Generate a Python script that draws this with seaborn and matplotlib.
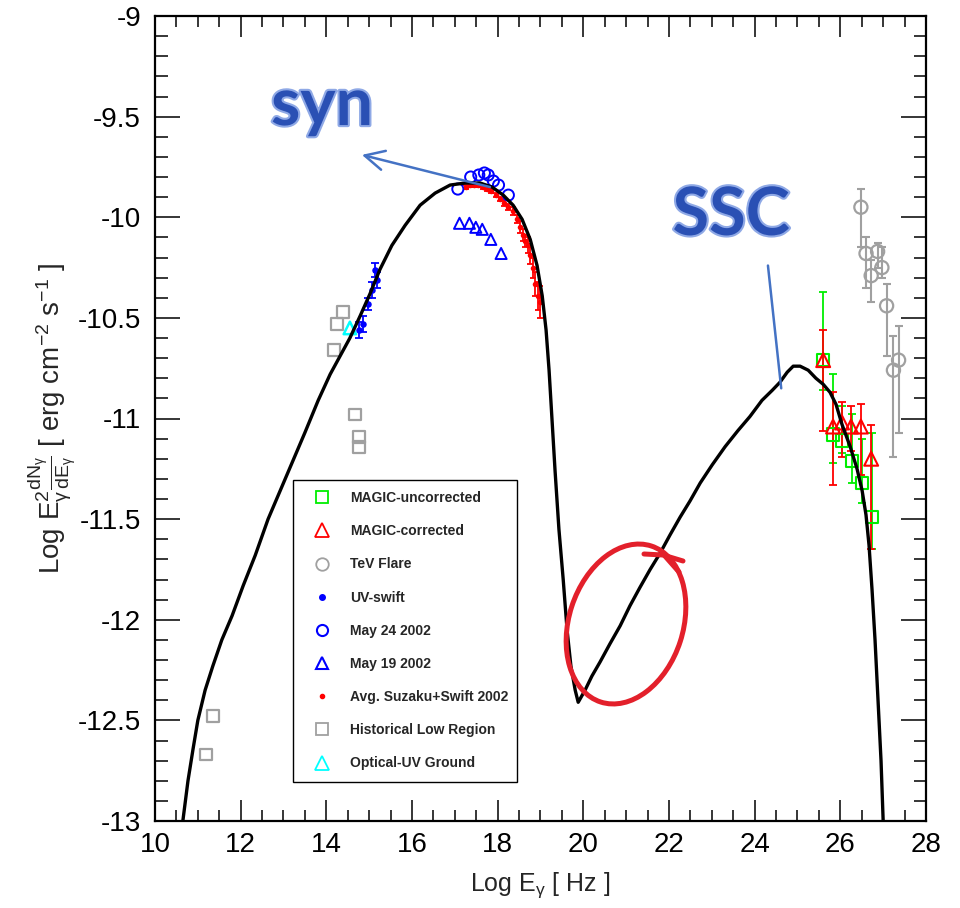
import numpy as np
import pandas as pd
import seaborn as sns
import matplotlib
matplotlib.use("Agg")
import matplotlib.pyplot as plt
from matplotlib.lines import Line2D
from matplotlib.patches import Ellipse
import matplotlib.patheffects as pe

# ---------------- data ----------------
# SED model curve (synchrotron + SSC)
curve_x = [10.65, 10.77, 10.89, 11.00, 11.17, 11.35, 11.56, 11.80, 12.06, 12.34, 12.64, 12.92,
           13.20, 13.50, 13.81, 14.09, 14.32, 14.55, 14.79, 15.02, 15.25, 15.53, 15.84, 16.19,
           16.54, 16.89, 17.24, 17.59, 17.87, 18.13, 18.36, 18.57, 18.76, 18.92, 19.04, 19.13,
           19.20, 19.27, 19.34, 19.43, 19.53, 19.62, 19.71, 19.81, 19.88,
           20.04, 20.20, 20.39, 20.62, 20.86, 21.09, 21.32, 21.56, 21.79, 22.02, 22.26, 22.49,
           22.73, 23.01, 23.31, 23.61, 23.89, 24.17, 24.41, 24.59, 24.76, 24.90, 25.06, 25.25,
           25.43, 25.60, 25.76, 25.90, 26.04, 26.23, 26.39, 26.51, 26.60, 26.67, 26.74, 26.81,
           26.88, 26.95, 27.00]
curve_y = [-13.00, -12.80, -12.64, -12.50, -12.35, -12.23, -12.10, -11.98, -11.83, -11.68, -11.50, -11.36,
           -11.22, -11.07, -10.91, -10.78, -10.69, -10.60, -10.49, -10.38, -10.26, -10.14, -10.04, -9.94,
           -9.88, -9.84, -9.83, -9.83, -9.85, -9.89, -9.94, -10.01, -10.11, -10.24, -10.39, -10.56,
           -10.76, -11.01, -11.26, -11.55, -11.80, -12.05, -12.23, -12.35, -12.41,
           -12.35, -12.28, -12.21, -12.12, -12.03, -11.93, -11.84, -11.75, -11.67, -11.58, -11.49, -11.41,
           -11.32, -11.23, -11.14, -11.06, -10.99, -10.91, -10.86, -10.82, -10.77, -10.74, -10.74, -10.76,
           -10.80, -10.83, -10.87, -10.93, -11.03, -11.14, -11.25, -11.36, -11.48, -11.63, -11.85, -12.10,
           -12.40, -12.70, -13.00]

# MAGIC uncorrected
magic_unc_x = [25.60, 25.83, 26.04, 26.27, 26.51, 26.74]
magic_unc_y = [-10.71, -11.08, -11.11, -11.21, -11.32, -11.49]
magic_unc_hi = [-10.37, -10.78, -10.94, -10.98, -11.10, -11.07]
magic_unc_lo = [-10.86, -11.22, -11.17, -11.32, -11.42, -11.65]

# MAGIC corrected
magic_cor_x = [25.60, 25.83, 26.04, 26.25, 26.48, 26.72]
magic_cor_y = [-10.71, -11.04, -11.02, -11.04, -11.04, -11.20]
magic_cor_hi = [-10.56, -10.87, -10.92, -10.94, -10.93, -11.03]
magic_cor_lo = [-11.06, -11.33, -11.19, -11.16, -11.28, -11.65]

# TeV flare
tev_x = [26.48, 26.60, 26.72, 26.87, 26.97, 27.08, 27.24, 27.36]
tev_y = [-9.95, -10.18, -10.29, -10.17, -10.25, -10.44, -10.76, -10.71]
tev_hi = [-9.86, -10.10, -10.21, -10.13, -10.15, -10.33, -10.59, -10.54]
tev_lo = [-10.15, -10.35, -10.42, -10.25, -10.30, -10.69, -11.19, -11.07]

# UV-swift
uv_x = [15.14, 15.18, 15.07, 14.97, 14.86, 14.77]
uv_y = [-10.26, -10.31, -10.36, -10.43, -10.53, -10.56]
uv_err = [0.035, 0.04, 0.04, 0.03, 0.04, 0.04]

# May 24 2002
may24_x = [17.07, 17.37, 17.56, 17.69, 17.78, 17.90, 18.02, 18.25]
may24_y = [-9.86, -9.80, -9.79, -9.78, -9.79, -9.82, -9.84, -9.89]

# May 19 2002
may19_x = [17.11, 17.34, 17.49, 17.64, 17.84, 18.08]
may19_y = [-10.03, -10.03, -10.05, -10.06, -10.11, -10.18]

# Avg. Suzaku+Swift 2002
suz_x = [17.25, 17.35, 17.45, 17.55, 17.65, 17.75, 17.85, 17.95, 18.05, 18.15, 18.25,
         18.35, 18.45, 18.52, 18.58, 18.64, 18.70, 18.76, 18.82, 18.88, 18.94, 18.99]
suz_y = [-9.85, -9.84, -9.84, -9.84, -9.85, -9.86, -9.87, -9.89, -9.91, -9.93, -9.95,
         -9.97, -10.01, -10.05, -10.09, -10.12, -10.14, -10.19, -10.25, -10.33, -10.39, -10.42]
suz_err = [0.01, 0.01, 0.01, 0.01, 0.01, 0.01, 0.01, 0.01, 0.01, 0.015, 0.015,
           0.02, 0.02, 0.03, 0.03, 0.03, 0.04, 0.04, 0.05, 0.06, 0.07, 0.08]

# Historical low region
hist_x = [14.39, 14.24, 14.18, 14.67, 14.77, 14.77, 11.35, 11.19]
hist_y = [-10.47, -10.53, -10.66, -10.98, -11.09, -11.14, -12.48, -12.67]

# Optical-UV ground
opt_x = [14.55]
opt_y = [-10.55]

x_ticks = [10, 12, 14, 16, 18, 20, 22, 24, 26, 28]
y_ticks = [-13, -12.5, -12, -11.5, -11, -10.5, -10, -9.5, -9]
y_tick_labels = ["-13", "-12.5", "-12", "-11.5", "-11", "-10.5", "-10", "-9.5", "-9"]

legend_labels = ["MAGIC-uncorrected", "MAGIC-corrected", "TeV Flare", "UV-swift",
                 "May 24 2002", "May 19 2002", "Avg. Suzaku+Swift 2002",
                 "Historical Low Region", "Optical-UV Ground"]

# ---------------- style ----------------
sns.set_style("ticks")
plt.rcParams["font.family"] = ["Liberation Sans", "DejaVu Sans"]
plt.rcParams["mathtext.fontset"] = "custom"
plt.rcParams["mathtext.rm"] = "Liberation Sans"
plt.rcParams["mathtext.it"] = "Liberation Sans"
plt.rcParams["mathtext.bf"] = "Liberation Sans:bold"
plt.rcParams["axes.unicode_minus"] = False

GREEN = "#00ee00"
RED = "#ff0000"
GRAY = "#a0a0a0"
BLUE = "#0000ff"
CYAN = "#00ffff"

fig = plt.figure(figsize=(9.6, 9.08), dpi=100)
ax = fig.add_axes([155 / 960, 1 - 821 / 908, 771 / 960, 805 / 908])


def open_scatter(x, y, marker, color, size, lw=1.4, z=3):
    df = pd.DataFrame({"x": x, "y": y})
    sns.scatterplot(data=df, x="x", y="y", ax=ax, marker=marker, s=size ** 2,
                    facecolor="none", edgecolor=color, linewidth=lw, zorder=z, legend=False)


def errbars(x, y, hi, lo, color, lw=1.2, cap=3, z=2):
    y = np.asarray(y)
    yerr = [y - np.asarray(lo), np.asarray(hi) - y]
    ax.errorbar(x, y, yerr=yerr, fmt="none", ecolor=color, elinewidth=lw,
                capsize=cap, capthick=lw, zorder=z)


# error bars
errbars(tev_x, tev_y, tev_hi, tev_lo, GRAY, lw=1.5)
errbars(magic_unc_x, magic_unc_y, magic_unc_hi, magic_unc_lo, GREEN, lw=1.3)
errbars(magic_cor_x, magic_cor_y, magic_cor_hi, magic_cor_lo, RED, lw=1.3)
ax.errorbar(uv_x, uv_y, yerr=uv_err, fmt="none", ecolor=BLUE, elinewidth=1.3,
            capsize=3, capthick=1.3, zorder=2)
ax.errorbar(suz_x, suz_y, yerr=suz_err, fmt="none", ecolor=RED, elinewidth=1.3,
            capsize=2.5, capthick=1.3, zorder=2)

# markers
open_scatter(hist_x, hist_y, "s", GRAY, 8.5, lw=1.6)
open_scatter(tev_x, tev_y, "o", GRAY, 9.5, lw=1.6)
open_scatter(magic_unc_x, magic_unc_y, "s", GREEN, 9, lw=1.5)
open_scatter(magic_cor_x, magic_cor_y, "^", RED, 10, lw=1.5)
open_scatter(may24_x, may24_y, "o", BLUE, 8, lw=1.4)
open_scatter(may19_x, may19_y, "^", BLUE, 8, lw=1.4)
open_scatter(opt_x, opt_y, "^", CYAN, 9, lw=1.8)
sns.scatterplot(x=uv_x, y=uv_y, ax=ax, marker="o", s=22, color=BLUE, edgecolor=BLUE,
                linewidth=0, zorder=3, legend=False)
sns.scatterplot(x=suz_x, y=suz_y, ax=ax, marker="o", s=16, color=RED, edgecolor=RED,
                linewidth=0, zorder=3, legend=False)

# model curve
sns.lineplot(x=curve_x, y=curve_y, ax=ax, sort=False, estimator=None, color="black",
             linewidth=2.4, zorder=5)

# ---------------- axes ----------------
ax.set_xlim(10, 28)
ax.set_ylim(-13, -9)
ax.set_xticks(x_ticks)
ax.set_xticklabels([str(t) for t in x_ticks])
ax.set_yticks(y_ticks)
ax.set_yticklabels(y_tick_labels)
ax.set_xticks(np.arange(10, 28.01, 0.5), minor=True)
ax.set_yticks(np.arange(-13, -8.99, 0.1), minor=True)
ax.tick_params(which="both", direction="in", top=True, right=True, width=1.1, colors="black")
ax.tick_params(axis="x", which="major", length=15, labelsize=20, pad=8)
ax.tick_params(axis="x", which="minor", length=8)
ax.tick_params(axis="y", which="major", length=18, labelsize=20, pad=10)
ax.tick_params(axis="y", which="minor", length=9)
for sp in ax.spines.values():
    sp.set_linewidth(1.6)
    sp.set_color("black")

ax.set_xlabel(r"Log E$_{\gamma}$ [ Hz ]", fontsize=18, va="center")
ax.xaxis.set_label_coords(0.5, -0.08)
ax.set_ylabel(r"Log E$^{2}_{\gamma}\frac{dN_{\gamma}}{dE_{\gamma}}$ [ erg cm$^{-2}$ s$^{-1}$ ]",
              fontsize=20, va="center")
ax.yaxis.set_label_coords(-0.134, 0.5)

# ---------------- legend ----------------
handles = [
    Line2D([], [], ls="none", marker="s", mfc="none", mec=GREEN, ms=9, mew=1.3),
    Line2D([], [], ls="none", marker="^", mfc="none", mec=RED, ms=10, mew=1.3),
    Line2D([], [], ls="none", marker="o", mfc="none", mec=GRAY, ms=9, mew=1.3),
    Line2D([], [], ls="none", marker="o", mfc=BLUE, mec=BLUE, ms=4),
    Line2D([], [], ls="none", marker="o", mfc="none", mec=BLUE, ms=8, mew=1.5),
    Line2D([], [], ls="none", marker="^", mfc="none", mec=BLUE, ms=8, mew=1.5),
    Line2D([], [], ls="none", marker="o", mfc=RED, mec=RED, ms=3),
    Line2D([], [], ls="none", marker="s", mfc="none", mec=GRAY, ms=9, mew=1.3),
    Line2D([], [], ls="none", marker="^", mfc="none", mec=CYAN, ms=10, mew=1.3),
]
leg = ax.legend(handles, legend_labels, loc="upper left",
                bbox_to_anchor=((293 - 155) / 771, 1 - (480 - 16) / 805, (517 - 293) / 771, 0),
                mode="expand", prop={"size": 10, "weight": "bold"},
                borderpad=0.8, labelspacing=1.38, handlelength=2.6, handletextpad=0.72,
                fancybox=False, framealpha=1, edgecolor="black", borderaxespad=0)
leg.get_frame().set_linewidth(1.0)
leg.set_zorder(6)

# ---------------- annotations ----------------
ANN = "#4472c4"
txt_fx = [pe.withStroke(linewidth=3, foreground="#8fa9e6")]
ax.text(13.90, -9.542, "syn", fontsize=48, fontweight="bold", family=["Lato", "DejaVu Sans"],
        color="#2a50b4", ha="center", va="baseline", zorder=8, path_effects=txt_fx)
ax.text(23.45, -10.088, "SSC", fontsize=48, fontweight="bold", family=["Lato", "DejaVu Sans"],
        color="#2a50b4", ha="center", va="baseline", zorder=8, path_effects=txt_fx)

ax.annotate("", xy=(14.83, -9.69), xytext=(17.82, -9.85),
            arrowprops=dict(arrowstyle="->,head_length=0.7,head_width=0.35", color=ANN,
                            lw=1.8, mutation_scale=20, shrinkA=0, shrinkB=0), zorder=8)
ax.plot([24.31, 24.62], [-10.24, -10.85], color=ANN, lw=1.8, zorder=8)

# hand-drawn red circle (in figure inches)
ell = Ellipse((6.26, 2.84), width=1.64, height=1.14, angle=72, transform=fig.dpi_scale_trans,
              facecolor="none", edgecolor="#e3202b", linewidth=3.6, zorder=9)
fig.add_artist(ell)
fig.add_artist(Line2D([6.44, 6.63, 6.83], [3.54, 3.53, 3.47], transform=fig.dpi_scale_trans,
                      color="#e3202b", lw=3.6, solid_capstyle="round"))
fig.add_artist(Line2D([6.64, 6.79], [3.53, 3.36], transform=fig.dpi_scale_trans,
                      color="#e3202b", lw=3.6, solid_capstyle="round"))

fig.savefig("out.png", dpi=100)
